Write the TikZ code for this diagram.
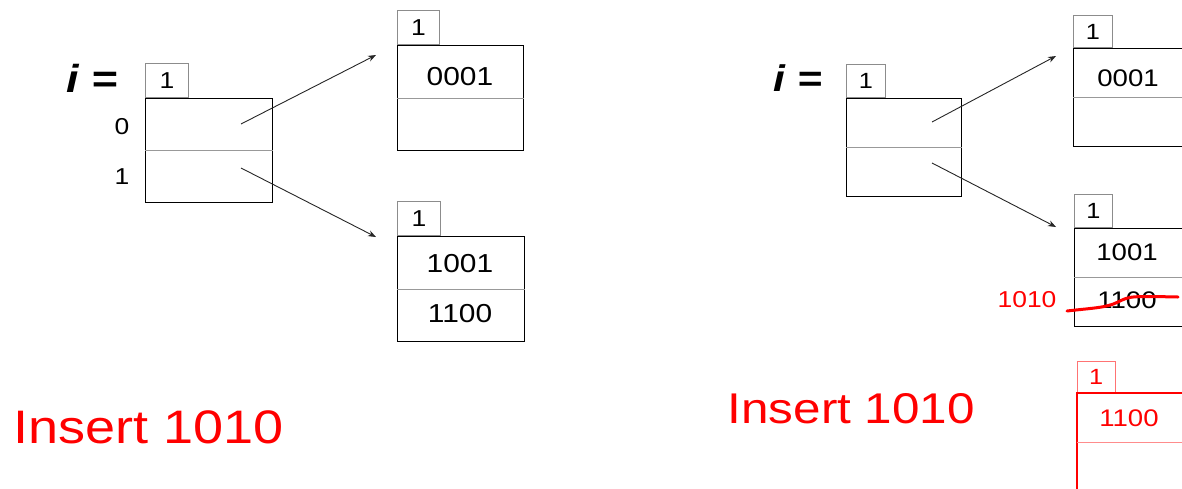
\documentclass[tikz,border=0pt]{standalone}
\usepackage{fontspec}
\setmainfont{Liberation Sans}[FakeStretch=1.15]
\usetikzlibrary{arrows.meta}
\begin{document}
\begin{tikzpicture}[x=1pt,y=-1pt,
  tagbox/.style={draw=black!45,line width=0.8pt,inner sep=0pt,anchor=south west,
    minimum width=#1,minimum height=34pt,font=\fontsize{23}{23}\selectfont},
  tagbox/.default=43pt,
  mainbox/.style={draw=#1,line width=1.2pt,inner sep=0pt,anchor=north west},
  mainbox/.default=black,
  divider/.style={draw=black!40,line width=0.8pt},
  key/.style={font=\fontsize{26}{26}\selectfont},
  idx/.style={font=\fontsize{23}{23}\selectfont},
  ilabel/.style={font=\fontsize{39}{39}\selectfont\bfseries\itshape},
  ptr/.style={draw=black!85,line width=0.9pt,-{Stealth[length=8pt,width=6pt]}},
  note/.style={text=red,anchor=base west},
]
\useasboundingbox (0,0) rectangle (1182,488);
\clip (0,0) rectangle (1182,488);

% ---------- left: directory with global depth 1 ----------
\node[ilabel] (ileft) at (92,78) {i =};
\node[tagbox] (dtag) at (145,98) {1};
\node[mainbox,minimum width=127pt,minimum height=104pt] (dir) at (145,98) {};
\draw[divider] (dir.west) -- (dir.east);
\node[idx] (d0) at (122,127) {0};
\node[idx] (d1) at (122,177) {1};

% bucket for prefix 0
\node[tagbox,minimum width=42pt] (b1tag) at (397,45) {1};
\node[mainbox,minimum width=126pt,minimum height=105pt] (b1) at (397,45) {};
\draw[divider] (b1.west) -- (b1.east);
\node[key] (k0001) at (460,77) {0001};

% bucket for prefix 1
\node[tagbox] (b2tag) at (397,236) {1};
\node[mainbox,minimum width=127pt,minimum height=105pt] (b2) at (397,236) {};
\draw[divider] (b2.west) -- (b2.east);
\node[key] (k1001) at (460,264) {1001};
\node[key] (k1100) at (460,314) {1100};

% directory pointers
\coordinate (p0) at (241,124);
\coordinate (p1) at (241,168);
\coordinate (e0) at (376,55);
\coordinate (e1) at (376,237);
\draw[ptr] (p0) -- (e0);
\draw[ptr] (p1) -- (e1);

\node[note,font=\fontsize{47}{47}\selectfont] (insL) at (10,443) {Insert 1010};

% ---------- right: the same structure during the insert ----------
\node[ilabel,font=\fontsize{37}{37}\selectfont\bfseries\itshape] (iright) at (798,78) {i =};
\node[tagbox,minimum width=39pt,minimum height=33pt,font=\fontsize{22}{22}\selectfont] (rtag) at (846,98) {1};
\node[mainbox,minimum width=115pt,minimum height=98pt] (rdir) at (846,98) {};
\draw[divider] (rdir.west) -- (rdir.east);

\node[tagbox,minimum width=39pt,minimum height=32pt,font=\fontsize{22}{22}\selectfont] (rb1tag) at (1073,48) {1};
\node[mainbox,minimum width=115pt,minimum height=98pt] (rb1) at (1073,48) {};
\draw[divider] (rb1.west) -- (rb1.east);
\node[key,font=\fontsize{24}{24}\selectfont] (rk0001) at (1128,78) {0001};

\node[tagbox,minimum width=38pt,minimum height=33pt,font=\fontsize{22}{22}\selectfont] (rb2tag) at (1074,228) {1};
\node[mainbox,minimum width=115pt,minimum height=98pt] (rb2) at (1074,228) {};
\draw[divider] (rb2.west) -- (rb2.east);
\node[key,font=\fontsize{24}{24}\selectfont] (rk1001) at (1127,252) {1001};
\node[key,font=\fontsize{24}{24}\selectfont] (rk1100) at (1127,300) {1100};

\coordinate (q0) at (932,122);
\coordinate (q1) at (932,163);
\coordinate (f0) at (1056,56);
\coordinate (f1) at (1056,227);
\draw[ptr] (q0) -- (f0);
\draw[ptr] (q1) -- (f1);

% overflow: the new key and the struck-out entry
\node[text=red,font=\fontsize{23}{23}\selectfont] (newkey) at (1027,300) {1010};
\coordinate (s0) at (1067,311);
\coordinate (s1) at (1178,297);
\draw[red,line width=3pt,line cap=round]
  (s0) .. controls (1092,308) and (1106,308) .. (1118,302)
       .. controls (1130,296) .. (s1);

% new bucket created by the split (outlines drawn in red)
\node[inner sep=0pt,anchor=south west,text=red,minimum width=38pt,minimum height=31pt,
  font=\fontsize{22}{22}\selectfont] (ntag) at (1077,393) {1};
\draw[red!55,line width=1pt] (ntag.south west) -- (ntag.north west) -- (ntag.north east) -- (ntag.south east);
\node[inner sep=0pt,anchor=north west,minimum width=115pt,minimum height=98pt] (nb) at (1077,393) {};
\draw[red,line width=1.4pt] (nb.south west) -- (nb.north west) -- (nb.north east) -- (nb.south east);
\draw[divider,draw=red!45] (nb.west) -- (nb.east);
\node[key,text=red,font=\fontsize{24}{24}\selectfont] (nk1100) at (1129,418) {1100};

\node[note,font=\fontsize{43}{43}\selectfont] (insR) at (724,423) {Insert 1010};
\end{tikzpicture}
\end{document}
